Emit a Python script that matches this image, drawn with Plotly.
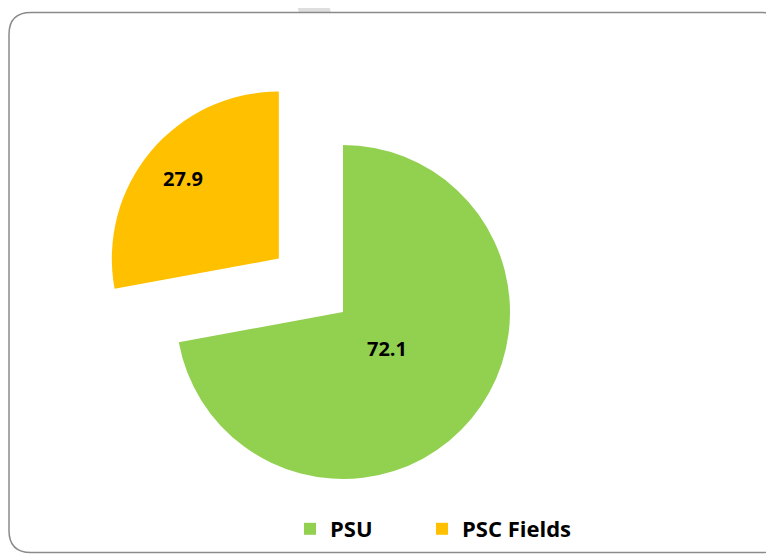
import math
import plotly.graph_objects as go

# ---- data ----
categories = ["PSU", "PSC Fields"]
values = [72.1, 27.9]
colors = ["#92D050", "#FFC000"]
label_text = ["72.1", "27.9"]
pulls = [0.0, 0.5]

# The page body has an 8px margin, so the figure starts at page (8, 8)
OFF = 8
W, H = 774 - OFF, 554 - OFF

def px(x):
    return (x - OFF) / W

def py(y):
    return 1 - (y - OFF) / H

def dom(cx, cy, r):
    return dict(x=[px(cx - r), px(cx + r)], y=[py(cy + r), py(cy - r)])

R = 167
main_center = (343, 312)

# slice geometry (clockwise from 12 o'clock)
total = sum(values)
mids = []
acc = 0.0
for v in values:
    mids.append((acc + v / 2) / total * 2 * math.pi)
    acc += v

centers = []
for p, a in zip(pulls, mids):
    centers.append((main_center[0] + p * R * math.sin(a), main_center[1] - p * R * math.cos(a)))

fig = go.Figure()
for i in range(len(values)):
    cols = ["rgba(0,0,0,0)"] * len(values)
    cols[i] = colors[i]
    fig.add_trace(go.Pie(
        labels=categories, values=values, sort=False, direction="clockwise",
        rotation=0, marker=dict(colors=cols, line=dict(width=0)),
        textinfo="none", domain=dom(centers[i][0], centers[i][1], R),
        showlegend=False, hoverinfo="label+value",
    ))

# legend entries (one legend per category, to reproduce the wide spacing)
legend_names = ["legend", "legend2"]
for i in range(len(values)):
    fig.add_trace(go.Pie(
        labels=[categories[i]], values=[values[i]], sort=False,
        marker=dict(colors=[colors[i]]), textinfo="none",
        domain=dict(x=[0, 0.0001], y=[0, 0.0001]), showlegend=True,
        hoverinfo="skip", legend=legend_names[i],
    ))

# data labels placed along each slice's mid-angle
label_frac = [0.34, 0.75]
annotations = []
for i in range(len(values)):
    cx, cy = centers[i]
    lx = cx + label_frac[i] * R * math.sin(mids[i])
    ly = cy - label_frac[i] * R * math.cos(mids[i])
    annotations.append(dict(
        x=px(lx), y=py(ly), xref="paper", yref="paper", text=label_text[i],
        showarrow=False, xanchor="center", yanchor="middle",
        font=dict(family="Open Sans", size=20, color="black", weight="bold"),
    ))

def rounded_path(x0, y0, x1, y1, r):
    pts = [
        f"M {px(x0 + r)} {py(y0)}",
        f"L {px(x1 - r)} {py(y0)}",
        f"Q {px(x1)} {py(y0)} {px(x1)} {py(y0 + r)}",
        f"L {px(x1)} {py(y1 - r)}",
        f"Q {px(x1)} {py(y1)} {px(x1 - r)} {py(y1)}",
        f"L {px(x0 + r)} {py(y1)}",
        f"Q {px(x0)} {py(y1)} {px(x0)} {py(y1 - r)}",
        f"L {px(x0)} {py(y0 + r)}",
        f"Q {px(x0)} {py(y0)} {px(x0 + r)} {py(y0)}",
        "Z",
    ]
    return " ".join(pts)

shapes = [
    dict(type="path", xref="paper", yref="paper", layer="below",
         path=f"M {px(296)} {py(0)} L {px(328)} {py(0)} L {px(331)} {py(13)} L {px(299)} {py(13)} Z",
         fillcolor="#DEDEDE", line=dict(width=0)),
    dict(type="path", xref="paper", yref="paper", layer="below",
         path=rounded_path(9, 12.5, 784, 552.5, 22),
         fillcolor="rgba(0,0,0,0)", line=dict(color="#8A8A8A", width=1.5)),
]

legend_font = dict(family="Open Sans", size=22, color="black", weight="bold")
fig.update_layout(
    width=W, height=H,
    margin=dict(l=0, r=0, t=0, b=0),
    paper_bgcolor="white", plot_bgcolor="white",
    shapes=shapes, annotations=annotations,
    legend=dict(orientation="h", x=px(290), xanchor="left", y=py(529), yanchor="middle",
                font=legend_font, bgcolor="rgba(0,0,0,0)"),
    legend2=dict(orientation="h", x=px(422), xanchor="left", y=py(529), yanchor="middle",
                 font=legend_font, bgcolor="rgba(0,0,0,0)"),
)

fig.write_html("out.html")
